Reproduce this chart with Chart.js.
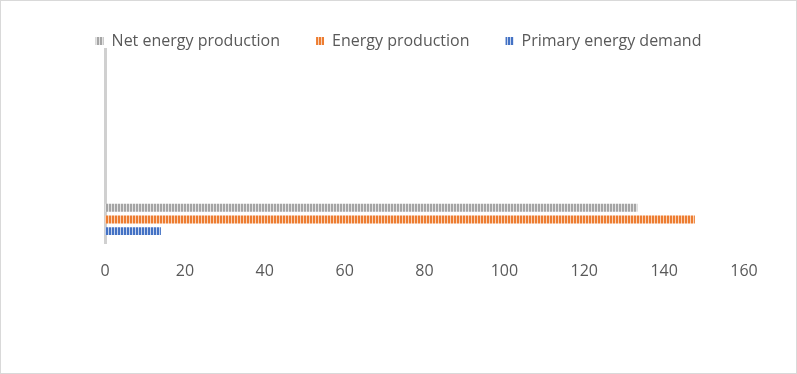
<!DOCTYPE html>
<html lang="en">
<head>
    <meta charset="UTF-8">
    <title>Energy chart</title>
    <script src="https://cdn.jsdelivr.net/npm/chart.js"></script>
    <style>
        body {
            margin: 0;
            padding: 0;
            background: #fff;
        }
        .frame {
            width: 795px;
            height: 372px;
            border: 1px solid #d9d9d9;
        }
    </style>
</head>
<body>
    <div class="frame">
        <canvas id="chart" width="795" height="372"></canvas>
    </div>

    <script>
        // Data (only the bottom category holds values)
        const categories = ['', '', '', ''];
        const netEnergyProduction = [null, null, null, 133.3];
        const energyProduction = [null, null, null, 147.7];
        const primaryEnergyDemand = [null, null, null, 14];
        const xTicks = [0, 20, 40, 60, 80, 100, 120, 140, 160];

        // vertical stripe fill like the Excel pattern
        function stripes(color, gap) {
            let c = document.createElement('canvas');
            c.width = 3;
            c.height = 3;
            let g = c.getContext('2d');
            g.fillStyle = gap;
            g.fillRect(0, 0, 3, 3);
            g.fillStyle = color;
            g.fillRect(0, 0, 2, 3);
            return g.createPattern(c, 'repeat');
        }

        // shrink the space the legend reserves under itself,
        // then give the height back before drawing so the text is not clipped
        const cut = 10;
        const legendGap = {
            id: 'legendGap',
            beforeInit(chart) {
                const fit = chart.legend.fit;
                chart.legend.fit = function () {
                    fit.bind(chart.legend)();
                    this.height -= cut;
                };
            },
            beforeDraw(chart) {
                chart.legend.height += cut;
                chart.legend.bottom += cut;
            }
        };

        let ctx = document.getElementById('chart').getContext('2d');
        new Chart(ctx, {
            type: 'bar',
            data: {
                labels: categories,
                datasets: [
                    { label: 'Net energy production', data: netEnergyProduction, backgroundColor: stripes('#a5a5a5', '#e4e4e4') },
                    { label: 'Energy production', data: energyProduction, backgroundColor: stripes('#ed7d31', '#f9d2b8') },
                    { label: 'Primary energy demand', data: primaryEnergyDemand, backgroundColor: stripes('#4472c4', '#c3d2ee') }
                ]
            },
            plugins: [legendGap],
            options: {
                indexAxis: 'y',
                responsive: false,
                animation: false,
                barPercentage: 0.68,
                categoryPercentage: 0.72,
                layout: { padding: { left: 52, right: 52, top: -4, bottom: 74 } },
                plugins: {
                    legend: {
                        position: 'top',
                        labels: {
                            boxWidth: 8,
                            boxHeight: 8,
                            padding: 36,
                            color: '#595959',
                            font: { family: 'Open Sans', size: 16 }
                        }
                    },
                    tooltip: { enabled: false }
                },
                scales: {
                    x: {
                        min: 0,
                        max: 160,
                        afterBuildTicks: axis => { axis.ticks = xTicks.map(v => ({ value: v })); },
                        grid: { display: false, drawTicks: false },
                        border: { display: false },
                        ticks: {
                            padding: 18,
                            color: '#595959',
                            font: { family: 'Open Sans', size: 16 }
                        }
                    },
                    y: {
                        afterFit: axis => { axis.width = 52; },
                        grid: { display: false, drawTicks: false },
                        border: { display: true, color: '#d0d0d0', width: 3 },
                        ticks: { display: false }
                    }
                }
            }
        });
    </script>
</body>
</html>
